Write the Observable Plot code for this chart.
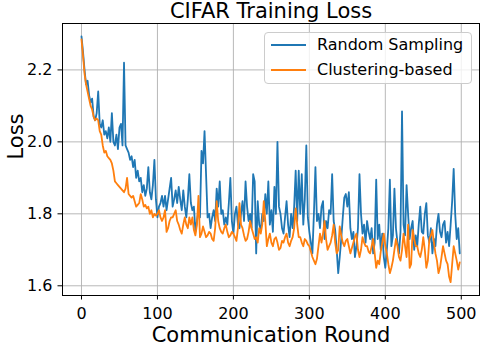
<!DOCTYPE html>
<html>
<head>
<meta charset="utf-8">
<script src="https://cdn.jsdelivr.net/npm/d3@7"></script>
<script src="https://cdn.jsdelivr.net/npm/@observablehq/plot@0.6"></script>
<style>
  html, body { margin: 0; padding: 0; background: white; }
  #wrap { position: relative; width: 480px; height: 346px; font-family: "DejaVu Sans", sans-serif; }
  #legend { position: absolute; left: 264px; top: 32px; width: 206px; height: 50px;
            border: 1px solid #cccccc; border-radius: 4px; background: rgba(255,255,255,0.8);
            font-size: 16px; color: black; }
  .row { position: absolute; left: 0; height: 20px; width: 100%; }
  .swatch { position: absolute; left: 6px; top: 9px; width: 35px; height: 2px; }
  .lab { position: absolute; left: 52px; top: 0; line-height: 20px; white-space: nowrap; }
</style>
</head>
<body>
<div id="wrap">
  <div id="chart"></div>
  <div id="legend"></div>
</div>
<script>
const title = "CIFAR Training Loss";
const xLabel = "Communication Round";
const yLabel = "Loss";
const seriesNames = ["Random Sampling", "Clustering-based"];
const seriesColors = ["#1f77b4", "#ff7f0e"];
const roundStep = 2;
const xTicks = [0, 100, 200, 300, 400, 500];
const yTicks = [1.6, 1.8, 2.0, 2.2];

// Random Sampling, every 2nd round from 0 to 498
const randomLoss = [
  2.293, 2.25, 2.20, 2.16, 2.17, 2.13, 2.11, 2.12, 2.07, 2.06,
  2.08, 2.14, 2.05, 2.04, 2.06, 2.02, 2.03, 2.01, 2.04, 2.00,
  2.08, 2.00, 1.99, 2.02, 1.98, 2.04, 2.05, 1.99, 2.22, 1.99,
  1.98, 1.97, 1.95, 1.96, 1.93, 1.95, 1.90, 1.92, 1.89, 1.90,
  1.86, 1.88, 1.85, 1.87, 1.93, 1.86, 1.84, 1.88, 1.95, 1.84,
  1.79, 1.82, 1.83, 1.85, 1.82, 1.85, 1.81, 1.84, 1.87, 1.90,
  1.82, 1.84, 1.865, 1.83, 1.875, 1.84, 1.81, 1.865, 1.82, 1.79,
  1.84, 1.91, 1.83, 1.81, 1.82, 1.75, 1.78, 1.81, 1.79, 1.975,
  1.94, 2.03, 1.91, 1.79, 1.80, 1.76, 1.79, 1.81, 1.78, 1.87,
  1.82, 1.89, 1.80, 1.81, 1.77, 1.79, 1.77, 1.83, 1.90, 1.78,
  1.745, 1.80, 1.82, 1.77, 1.76, 1.80, 1.835, 1.78, 1.89, 1.82,
  1.78, 1.80, 1.76, 1.91, 1.89, 1.69, 1.835, 1.77, 1.755, 1.80,
  1.78, 1.855, 1.80, 1.89, 1.77, 1.81, 1.75, 1.875, 1.80, 2.00,
  1.82, 1.80, 1.76, 1.745, 1.79, 1.835, 1.77, 1.735, 1.80, 1.76,
  1.82, 1.92, 1.78, 1.92, 1.80, 1.91, 1.77, 1.84, 1.99, 1.79,
  1.75, 1.72, 1.69, 1.80, 1.93, 1.78, 1.80, 1.76, 1.82, 1.835,
  1.73, 1.78, 1.76, 1.81, 1.80, 1.91, 1.78, 1.755, 1.70, 1.635,
  1.68, 1.73, 1.79, 1.845, 1.855, 1.82, 1.86, 1.76, 1.73, 1.75,
  1.68, 1.71, 1.76, 1.91, 1.80, 1.745, 1.77, 1.72, 1.78, 1.75,
  1.73, 1.76, 1.69, 1.72, 1.895, 1.73, 1.77, 1.70, 1.745, 1.68,
  1.65, 1.70, 1.76, 1.895, 1.71, 1.74, 1.87, 1.76, 1.72, 1.69,
  1.75, 2.085, 1.77, 1.74, 1.88, 1.80, 1.73, 1.76, 1.78, 1.70,
  1.74, 1.71, 1.77, 1.82, 1.75, 1.745, 1.80, 1.83, 1.74, 1.72,
  1.76, 1.69, 1.73, 1.71, 1.77, 1.80, 1.75, 1.735, 1.77, 1.78,
  1.72, 1.75, 1.71, 1.77, 1.835, 1.925, 1.80, 1.73, 1.76, 1.69
];

// Clustering-based, every 2nd round from 0 to 498
const clusterLoss = [
  2.285, 2.24, 2.19, 2.16, 2.14, 2.12, 2.10, 2.09, 2.07, 2.06,
  2.065, 2.06, 2.03, 2.02, 1.99, 1.97, 1.975, 1.96, 1.955, 1.95,
  1.94, 1.92, 1.89, 1.885, 1.88, 1.875, 1.87, 1.865, 1.86, 1.87,
  1.90, 1.855, 1.85, 1.845, 1.85, 1.835, 1.82, 1.825, 1.83, 1.855,
  1.84, 1.82, 1.825, 1.815, 1.82, 1.80, 1.81, 1.79, 1.80, 1.795,
  1.80, 1.81, 1.79, 1.78, 1.79, 1.81, 1.75, 1.76, 1.78, 1.79,
  1.79, 1.80, 1.81, 1.78, 1.77, 1.755, 1.745, 1.77, 1.79, 1.77,
  1.76, 1.79, 1.77, 1.79, 1.755, 1.74, 1.77, 1.85, 1.735, 1.745,
  1.765, 1.75, 1.735, 1.74, 1.75, 1.745, 1.73, 1.725, 1.76, 1.835,
  1.78, 1.76, 1.75, 1.745, 1.76, 1.77, 1.75, 1.735, 1.74, 1.75,
  1.745, 1.735, 1.725, 1.76, 1.83, 1.77, 1.76, 1.74, 1.725, 1.73,
  1.75, 1.78, 1.76, 1.745, 1.73, 1.735, 1.72, 1.76, 1.745, 1.77,
  1.835, 1.78, 1.71, 1.73, 1.745, 1.72, 1.71, 1.73, 1.735, 1.72,
  1.70, 1.705, 1.725, 1.72, 1.735, 1.745, 1.72, 1.71, 1.725, 1.735,
  1.76, 1.815, 1.77, 1.735, 1.735, 1.72, 1.71, 1.73, 1.725, 1.715,
  1.71, 1.695, 1.68, 1.67, 1.66, 1.675, 1.71, 1.745, 1.72, 1.745,
  1.78, 1.73, 1.70, 1.71, 1.72, 1.74, 1.77, 1.72, 1.69, 1.70,
  1.765, 1.74, 1.72, 1.71, 1.725, 1.73, 1.71, 1.69, 1.705, 1.72,
  1.735, 1.745, 1.70, 1.68, 1.70, 1.735, 1.72, 1.71, 1.71, 1.695,
  1.69, 1.71, 1.73, 1.69, 1.65, 1.67, 1.66, 1.695, 1.72, 1.745,
  1.71, 1.69, 1.66, 1.635, 1.65, 1.67, 1.70, 1.73, 1.71, 1.68,
  1.67, 1.70, 1.745, 1.71, 1.68, 1.77, 1.65, 1.66, 1.755, 1.73,
  1.71, 1.71, 1.69, 1.68, 1.70, 1.735, 1.70, 1.65, 1.67, 1.73,
  1.74, 1.755, 1.72, 1.69, 1.67, 1.635, 1.65, 1.68, 1.71, 1.69,
  1.67, 1.66, 1.625, 1.61, 1.66, 1.71, 1.69, 1.67, 1.645, 1.665
];

const toRows = (arr, name) => arr.map((v, i) => ({round: i * roundStep, loss: v, series: name}));
const rowsA = toRows(randomLoss, seriesNames[0]);
const rowsB = toRows(clusterLoss, seriesNames[1]);

const chart = Plot.plot({
  width: 480,
  height: 346,
  marginLeft: 62,
  marginRight: 1,
  marginTop: 23,
  marginBottom: 51,
  style: {fontFamily: "DejaVu Sans", fontSize: "16px", background: "white", color: "black", overflow: "visible"},
  x: {domain: [-25, 524]},
  y: {domain: [1.573, 2.329]},
  marks: [
    Plot.gridX(xTicks, {stroke: "#b0b0b0", strokeOpacity: 1, strokeWidth: 0.9}),
    Plot.gridY(yTicks, {stroke: "#b0b0b0", strokeOpacity: 1, strokeWidth: 0.9}),
    Plot.line(rowsA, {x: "round", y: "loss", stroke: seriesColors[0], strokeWidth: 1.8}),
    Plot.line(rowsB, {x: "round", y: "loss", stroke: seriesColors[1], strokeWidth: 1.8}),
    Plot.frame({stroke: "black", strokeWidth: 1}),
    Plot.axisX(xTicks, {tickSize: 4.5, tickPadding: 7.5, fontSize: 16, label: null}),
    Plot.axisY(yTicks, {tickSize: 4.5, tickPadding: 5.5, fontSize: 16, label: null, tickFormat: d3.format(".1f")}),
    Plot.text([title], {text: d => d, frameAnchor: "top", dy: -5.5, lineAnchor: "bottom", fontSize: 21}),
    Plot.text([xLabel], {text: d => d, frameAnchor: "bottom", dy: 46.5, lineAnchor: "bottom", fontSize: 21}),
    Plot.text([yLabel], {text: d => d, frameAnchor: "left", dx: -40, rotate: -90, lineAnchor: "bottom", fontSize: 21})
  ]
});
document.getElementById("chart").appendChild(chart);

const legend = document.getElementById("legend");
seriesNames.forEach((name, i) => {
  const row = document.createElement("div");
  row.className = "row";
  row.style.top = (2 + i * 24.7) + "px";
  const sw = document.createElement("div");
  sw.className = "swatch";
  sw.style.background = seriesColors[i];
  const lab = document.createElement("div");
  lab.className = "lab";
  lab.textContent = name;
  row.appendChild(sw);
  row.appendChild(lab);
  legend.appendChild(row);
});
</script>
</body>
</html>
